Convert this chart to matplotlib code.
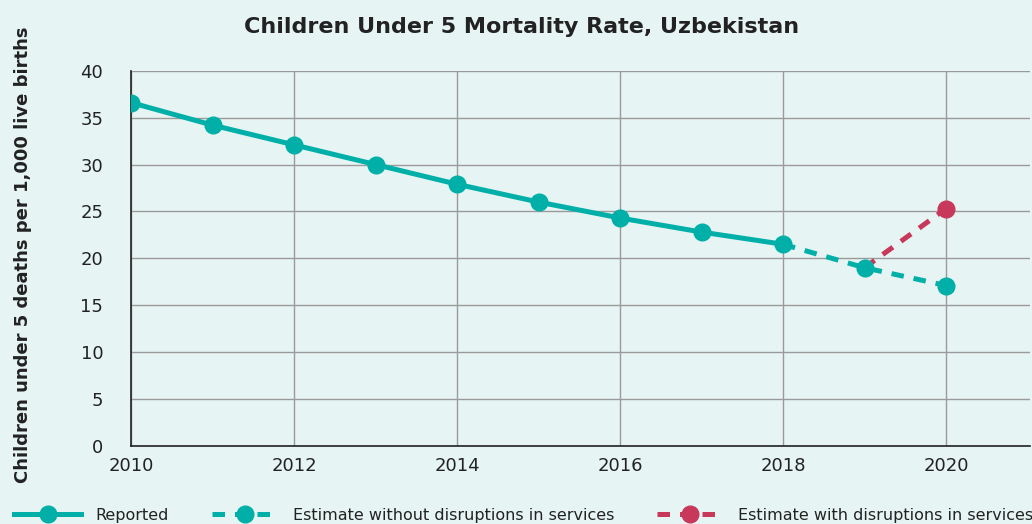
import matplotlib
matplotlib.use('Agg')
import matplotlib.pyplot as plt

# dados
anos_rep = [2010, 2011, 2012, 2013, 2014, 2015, 2016, 2017, 2018]
taxa_rep = [36.6, 34.2, 32.1, 30.0, 27.9, 26.0, 24.3, 22.8, 21.5]
anos_est = [2018, 2019, 2020]
taxa_sem = [21.5, 19.0, 17.1]
anos_com = [2019, 2020]
taxa_com = [19.0, 25.3]

teal = '#00B0A8'
red = '#C8385A'
bg = '#E6F4F3'
txt = '#222222'

plt.rcParams['font.family'] = ['DejaVu Sans']

fig = plt.figure(figsize=(10.32, 5.24), dpi=100, facecolor=bg)
ax = fig.add_axes([0.127, 0.149, 0.871, 0.716], facecolor=bg)

ax.plot(anos_com, taxa_com, '--', color=red, lw=3.6, dashes=(2.5, 2),
        marker='o', markersize=12, markevery=[1], zorder=3,
        label='Estimate with disruptions in services')
ax.plot(anos_est, taxa_sem, '--', color=teal, lw=3.6, dashes=(2.5, 2),
        marker='o', markersize=12, markevery=[1, 2], zorder=4,
        label='Estimate without disruptions in services')
ax.plot(anos_rep, taxa_rep, '-', color=teal, lw=3.6,
        marker='o', markersize=12, zorder=5, label='Reported')

ax.set_xlim(2010, 2021.03)
ax.set_ylim(0, 40)
ax.set_xticks(range(2010, 2021, 2))
ax.set_yticks(range(0, 41, 5))
ax.grid(True, color='#9a9a9a', lw=1)
ax.set_axisbelow(True)
for s in ['top', 'right']:
    ax.spines[s].set_visible(False)
for s in ['left', 'bottom']:
    ax.spines[s].set_color(txt)
    ax.spines[s].set_linewidth(1.2)
ax.tick_params(length=0, labelsize=13, colors=txt, pad=8)
ax.tick_params(axis='y', pad=20)

ax.set_ylabel('Children under 5 deaths per 1,000 live births', fontsize=13,
              fontweight='bold', color=txt)
ax.yaxis.set_label_coords(-0.11, 0.51)
fig.text(0.505, 0.948, 'Children Under 5 Mortality Rate, Uzbekistan',
         ha='center', va='center', fontsize=16, fontweight='bold', color=txt)

h, l = ax.get_legend_handles_labels()
leg = fig.legend(h[::-1], l[::-1], loc='lower left', bbox_to_anchor=(0.0, -0.025),
                 ncol=3, frameon=False, fontsize=11.5, handlelength=4.2,
                 columnspacing=2.65, handletextpad=0.9)
for t in leg.get_texts():
    t.set_color(txt)

fig.savefig('out.png', dpi=100, facecolor=bg)
